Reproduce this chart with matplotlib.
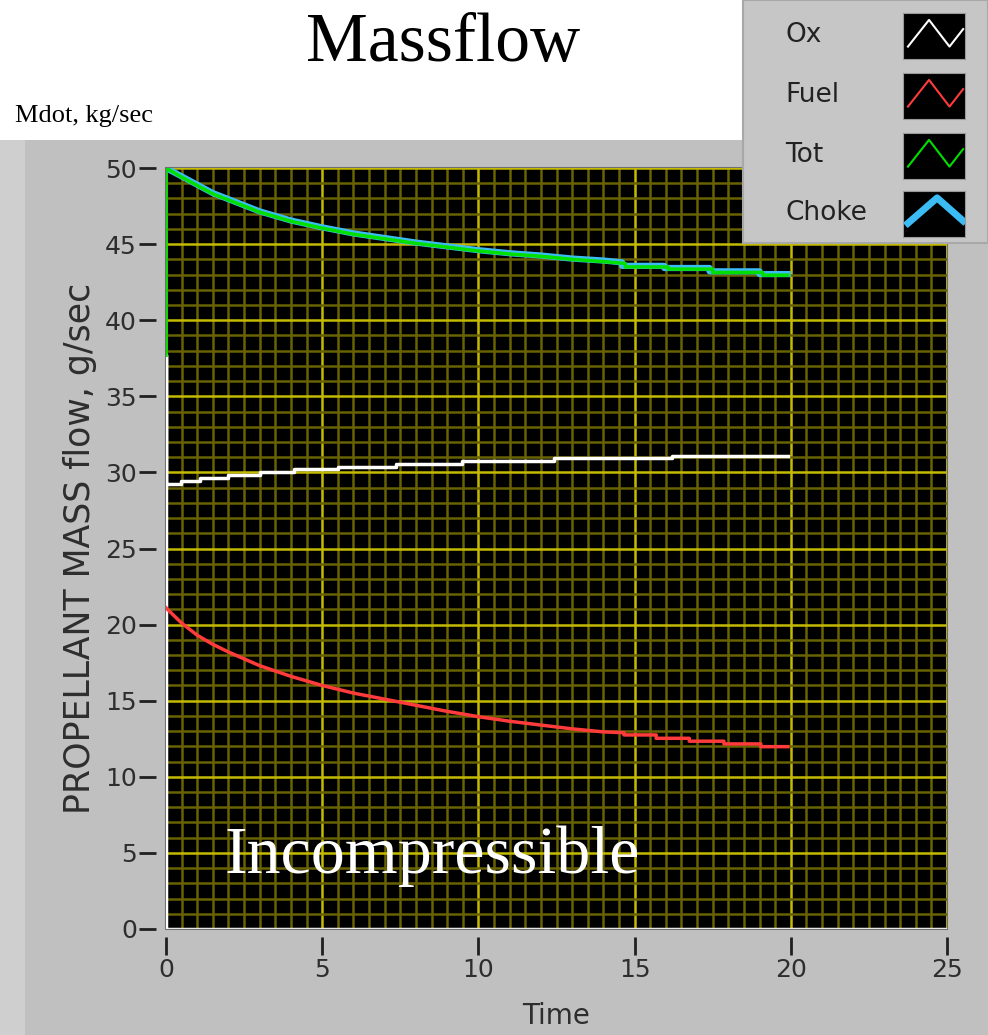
import numpy as np
import matplotlib.pyplot as plt
from matplotlib.patches import Rectangle
from matplotlib.ticker import MultipleLocator

# --- series (time in s, mass flow) ---
t_ox = [0, 0, 0, 0.48, 1.1, 2.0, 3.0, 4.1, 5.5, 7.35, 9.48, 12.43, 16.19, 19.9]
m_ox = [0, 37.7, 29.22, 29.44, 29.62, 29.82, 30.03, 30.21, 30.34, 30.57, 30.74, 30.92, 31.09, 31.09]

t_fuel = [0, 0.5, 1, 1.5, 2, 3, 4, 5, 6, 7, 8, 9, 10, 11, 12, 13, 14,
          14.66, 14.66, 15.69, 15.69, 16.75, 16.75, 17.86, 17.86, 19.04, 19.04, 19.9]
m_fuel = [21.1, 20.1, 19.3, 18.7, 18.2, 17.3, 16.6, 16.0, 15.5, 15.1, 14.7, 14.3, 13.95,
          13.65, 13.4, 13.15, 12.95,
          12.9, 12.75, 12.75, 12.53, 12.53, 12.34, 12.34, 12.16, 12.16, 11.98, 11.98]

t_tot = [0, 0, 0.5, 1, 1.5, 2, 3, 4, 5, 6, 7, 8, 9, 10, 11, 12, 13, 14,
         14.7, 14.7, 16.07, 16.07, 17.5, 17.5, 19.1, 19.1, 19.9]
m_tot = [37.7, 50.0, 49.4, 48.85, 48.3, 47.9, 47.1, 46.5, 46.05, 45.65, 45.35, 45.05, 44.8,
         44.55, 44.35, 44.2, 44.0, 43.85,
         43.73, 43.5, 43.5, 43.36, 43.36, 43.14, 43.14, 42.96, 42.96]

t_choke = [0, 0.5, 1, 1.5, 2, 3, 4, 5, 6, 7, 8, 9, 10, 11, 12, 13, 14,
           14.6, 14.6, 15.95, 15.95, 17.4, 17.4, 19.0, 19.0, 19.9]
m_choke = [50.0, 49.45, 48.9, 48.35, 47.95, 47.15, 46.55, 46.1, 45.7, 45.4, 45.1, 44.85,
           44.6, 44.4, 44.25, 44.05, 43.92,
           43.8, 43.57, 43.57, 43.43, 43.43, 43.21, 43.21, 43.03, 43.03]

names = ['Ox', 'Fuel', 'Tot', 'Choke']
colors = ['#ffffff', '#ff3b3b', '#00e000', '#3cbcf4']

panel = '#c0c0c0'
ink = '#2e2e2e'

fig = plt.figure(figsize=(9.88, 10.35), dpi=100)
fig.patch.set_facecolor('white')

# grey front panel behind the graph
fig.patches.append(Rectangle((0, 0), 1, 1 - 140/1035, transform=fig.transFigure,
                             facecolor=panel, edgecolor='none', zorder=-5))
fig.patches.append(Rectangle((0, 0), 25/988, 1 - 140/1035, transform=fig.transFigure,
                             facecolor='#cfcfcf', edgecolor='none', zorder=-5))

fig.text(0.448, 1 - 44/1035, 'Massflow', family='Liberation Serif', fontsize=50,
         ha='center', va='center')
fig.text(15/988, 1 - 116/1035, 'Mdot, kg/sec', family='Liberation Serif', fontsize=19,
         ha='left', va='center')

ax = fig.add_axes([166/988, 1 - 929/1035, (947 - 166)/988, (929 - 168)/1035])
ax.set_facecolor('black')
ax.patch.set_edgecolor('#707070')
ax.patch.set_linewidth(1.5)
ax.set_xlim(0, 25)
ax.set_ylim(0, 50)

ax.xaxis.set_major_locator(MultipleLocator(5))
ax.xaxis.set_minor_locator(MultipleLocator(0.5))
ax.yaxis.set_major_locator(MultipleLocator(5))
ax.yaxis.set_minor_locator(MultipleLocator(1))
ax.grid(which='minor', color='#686200', lw=1.8, zorder=0)
ax.grid(which='major', color='#c4ba00', lw=1.8, zorder=0)
ax.set_axisbelow(True)

ax.axhline(0, color='#e6e6e6', lw=2.5, zorder=2)

ax.plot(t_ox, m_ox, color=colors[0], lw=2.5, drawstyle='steps-post', zorder=3)
ax.plot(t_fuel, m_fuel, color=colors[1], lw=2.5, zorder=3)
ax.plot(t_choke, m_choke, color=colors[3], lw=4.5, zorder=4)
ax.plot(t_tot, m_tot, color=colors[2], lw=2.5, zorder=5)

ax.text(1.88, 3.68, 'Incompressible', family='Liberation Serif', fontsize=49,
        color='white', ha='left', va='baseline', zorder=6)

# ticks sit a few pixels off the plot edge
ax.spines['left'].set_position(('outward', 7))
ax.spines['bottom'].set_position(('outward', 6))
for s in ax.spines.values():
    s.set_color('none')

ax.tick_params(which='minor', length=0)
ax.tick_params(which='major', direction='out', color='#202020', width=2,
               labelsize=18, labelcolor=ink)
ax.tick_params(axis='y', which='major', length=12, pad=2)
ax.tick_params(axis='x', which='major', length=13, pad=2)
for lab in ax.get_xticklabels() + ax.get_yticklabels():
    lab.set_family('DejaVu Sans')

ax.set_xlabel('Time', family='DejaVu Sans', fontsize=20, color=ink, labelpad=14)
ax.set_ylabel('PROPELLANT MASS flow, g/sec', family='DejaVu Sans', fontsize=25,
              color=ink, labelpad=6)

# legend box, top right
fig.patches.append(Rectangle((743/988, 1 - 243/1035), 245/988, 243/1035,
                             transform=fig.transFigure, facecolor='#c6c6c6',
                             edgecolor='#a8a8a8', lw=1.5, zorder=10))
rows = [35, 95, 155, 213]
for name, col, yc in zip(names, colors, rows):
    fig.text(785/988, 1 - yc/1035, name, family='DejaVu Sans', fontsize=19,
             color='#222222', ha='left', va='center', zorder=11)
    sw = fig.add_axes([903/988, 1 - (yc + 24)/1035, 62/988, 46/1035], zorder=11)
    sw.set_facecolor('black')
    sw.set_xlim(0, 1)
    sw.set_ylim(0, 1)
    sw.set_xticks([])
    sw.set_yticks([])
    for s in sw.spines.values():
        s.set_color('#999999')
    if name == 'Choke':
        sw.plot([0.08, 0.55, 0.97], [0.3, 0.85, 0.35], color=col, lw=5)
    else:
        sw.plot([0.08, 0.42, 0.75, 0.97], [0.27, 0.85, 0.27, 0.65], color=col, lw=1.5)

fig.savefig('out.png', dpi=100)
